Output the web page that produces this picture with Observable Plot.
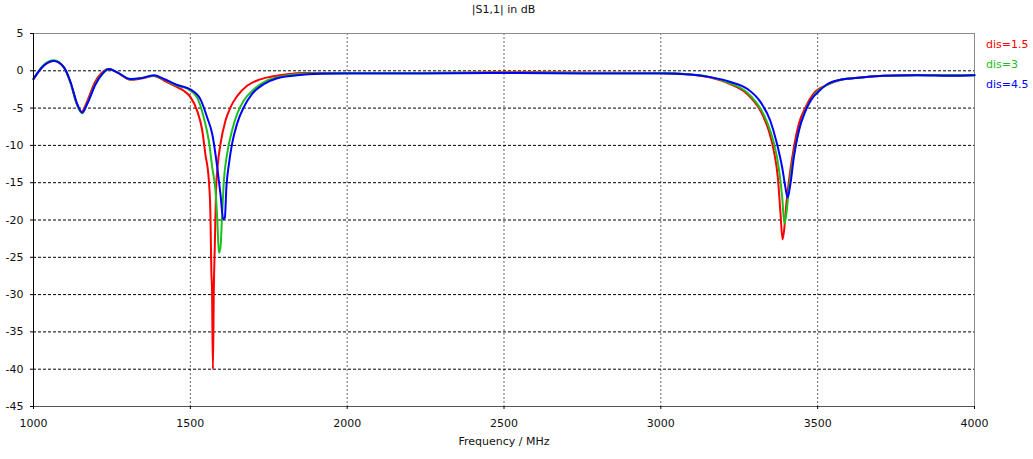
<!DOCTYPE html>
<html>
<head>
<meta charset="utf-8">
<script src="https://cdn.jsdelivr.net/npm/d3@7"></script>
<script src="https://cdn.jsdelivr.net/npm/@observablehq/plot@0.6"></script>
<style>
  body { margin: 0; background: #fff; font-family: "DejaVu Sans", sans-serif; }
  #wrap { position: relative; width: 1033px; height: 459px; }
  #title { position: absolute; top: 3px; left: 0; width: 1007px; text-align: center; font-size: 11px; color: #111; }
  .leg { position: absolute; left: 986px; font-size: 11px; line-height: 14px; }
  #chart { position: absolute; left: 0; top: 0; }
</style>
</head>
<body>
<div id="wrap">
  <div id="chart"></div>
  <div id="title">|S1,1| in dB</div>
  <div id="legend"></div>
</div>
<script>
// ---- data ----
const titleText = "|S1,1| in dB";
const xLabel = "Frequency / MHz";
const seriesNames = ["dis=1.5", "dis=3", "dis=4.5"];
const seriesColors = ["#ff0000", "#1ebe1e", "#0000ff"];

const xTicks = [1000, 1500, 2000, 2500, 3000, 3500, 4000];
const yTicks = [5, 0, -5, -10, -15, -20, -25, -30, -35, -40, -45];

const freqRed = [1000,1033,1065,1097,1118,1139,1153,1170,1195,1217,1240,1267,1309,1341,1384,1416,1458,1480,1500,1522,1538,1548,1559,1564,1567,1569,1572,1575,1578,1582,1587,1597,1612,1628,1649,1681,1713,1756,1809,1862,2000,2200,2500,2800,3000,3094,3158,3222,3275,3318,3344,3360,3373,3381,3388,3393,3400,3411,3424,3440,3461,3488,3530,3573,3637,3711,3817,3923,4000];
const dbRed   = [-1.1,0.7,1.35,0.45,-1.6,-4.5,-5.5,-4.2,-1.6,-0.3,0.25,-0.25,-1.2,-1.05,-0.7,-1.3,-2.2,-2.7,-3.5,-5.4,-8,-11.2,-14.7,-19.2,-27,-29,-40,-29,-23.5,-16,-12.8,-9.6,-6.7,-4.9,-3.4,-2.0,-1.3,-0.8,-0.45,-0.3,-0.3,-0.3,-0.2,-0.25,-0.3,-0.5,-0.9,-1.8,-3.1,-5.4,-8,-10.7,-14.3,-18.8,-22.6,-21.4,-17.9,-13.9,-10.3,-7.1,-4.9,-3.0,-1.9,-1.2,-0.9,-0.67,-0.55,-0.6,-0.55];

const freqGreen = [1000,1033,1065,1097,1118,1139,1155,1171,1198,1219,1240,1267,1309,1341,1384,1416,1458,1490,1522,1543,1559,1570,1580,1586,1591,1596,1601,1607,1617,1633,1649,1670,1702,1745,1798,1883,2000,2200,2500,2800,3000,3094,3158,3222,3275,3318,3339,3360,3376,3387,3394,3400,3408,3419,3435,3456,3488,3530,3573,3637,3711,3817,3923,4000];
const dbGreen   = [-1.1,0.8,1.4,0.45,-1.6,-4.6,-5.7,-4.4,-1.7,-0.4,0.25,-0.2,-1.15,-1.0,-0.65,-1.15,-2.0,-2.4,-3.6,-6.3,-9.4,-13,-16,-20,-24.4,-23.7,-19.7,-14.7,-11.2,-8,-5.8,-4,-2.5,-1.3,-0.7,-0.35,-0.3,-0.3,-0.25,-0.3,-0.3,-0.5,-0.85,-1.7,-2.9,-5.1,-6.9,-9.6,-13,-17,-20.5,-19.2,-16,-12.5,-8.9,-5.8,-3.3,-1.9,-1.2,-0.9,-0.67,-0.6,-0.6,-0.6];

const freqBlue = [1000,1033,1065,1097,1118,1139,1155,1171,1198,1219,1240,1267,1309,1341,1384,1416,1458,1490,1500,1532,1554,1570,1586,1596,1605,1610,1615,1623,1633,1649,1670,1697,1734,1777,1841,1915,2000,2200,2500,2800,3000,3094,3158,3222,3275,3318,3349,3368,3387,3397,3404,3413,3424,3440,3461,3488,3500,3530,3573,3637,3711,3817,3923,4000];
const dbBlue   = [-1.1,0.7,1.3,0.45,-1.5,-4.4,-5.6,-4.45,-1.8,-0.45,0.25,-0.2,-1.1,-1.0,-0.6,-1.1,-1.9,-2.3,-2.5,-3.8,-6.3,-8.5,-13,-16.5,-19.9,-19.7,-15.6,-12.5,-9.8,-7.1,-4.9,-3.1,-1.8,-1.0,-0.6,-0.4,-0.35,-0.35,-0.3,-0.35,-0.35,-0.5,-0.85,-1.5,-2.4,-4.2,-6.7,-9.4,-13,-15.6,-17,-15.2,-11.6,-8,-5.4,-3.4,-2.9,-1.8,-1.2,-0.9,-0.67,-0.6,-0.67,-0.6];

// ---- build tables ----
const toRows = (fs, ds) => fs.map((f, i) => ({f, db: ds[i]}));
const series = [toRows(freqRed, dbRed), toRows(freqGreen, dbGreen), toRows(freqBlue, dbBlue)];
const gridX = xTicks.slice(1, -1);
const gridY = yTicks.slice(1, -1);

const chart = Plot.plot({
  width: 1033,
  height: 459,
  marginTop: 33,
  marginRight: 59,
  marginBottom: 53,
  marginLeft: 33,
  style: { fontFamily: "DejaVu Sans, sans-serif", fontSize: "11px", background: "transparent", color: "#111" },
  x: { domain: [xTicks[0], xTicks[xTicks.length - 1]] },
  y: { domain: [yTicks[yTicks.length - 1], yTicks[0]] },
  marks: [
    Plot.ruleX(gridX, { stroke: "#666", strokeDasharray: "2,2", strokeWidth: 1 }),
    Plot.ruleY(gridY, { stroke: "#000", strokeDasharray: "3,2", strokeWidth: 1 }),
    Plot.frame({ stroke: "#8c8c8c" }),
    ...series.map((rows, i) => Plot.line(rows, { x: "f", y: "db", stroke: seriesColors[i], strokeWidth: 2, curve: "monotone-x" })),
    Plot.ruleX([xTicks[0]], { stroke: "#000" }),
    Plot.ruleY([yTicks[yTicks.length - 1]], { stroke: "#555" }),
    Plot.axisX(xTicks, { tickSize: 3, tickPadding: 10, tickFormat: d => String(d), label: xLabel, labelAnchor: "center", labelArrow: "none", labelOffset: 38, stroke: "#000" }),
    Plot.axisY(yTicks, { tickSize: 3, tickPadding: 7, tickFormat: d => String(d), label: null, stroke: "#000" })
  ]
});
document.getElementById("chart").appendChild(chart);
document.getElementById("title").textContent = titleText;

const legend = document.getElementById("legend");
seriesNames.forEach((name, i) => {
  const d = document.createElement("div");
  d.className = "leg";
  d.style.top = (38 + i * 20) + "px";
  d.style.color = seriesColors[i];
  d.textContent = name;
  legend.appendChild(d);
});
</script>
</body>
</html>
